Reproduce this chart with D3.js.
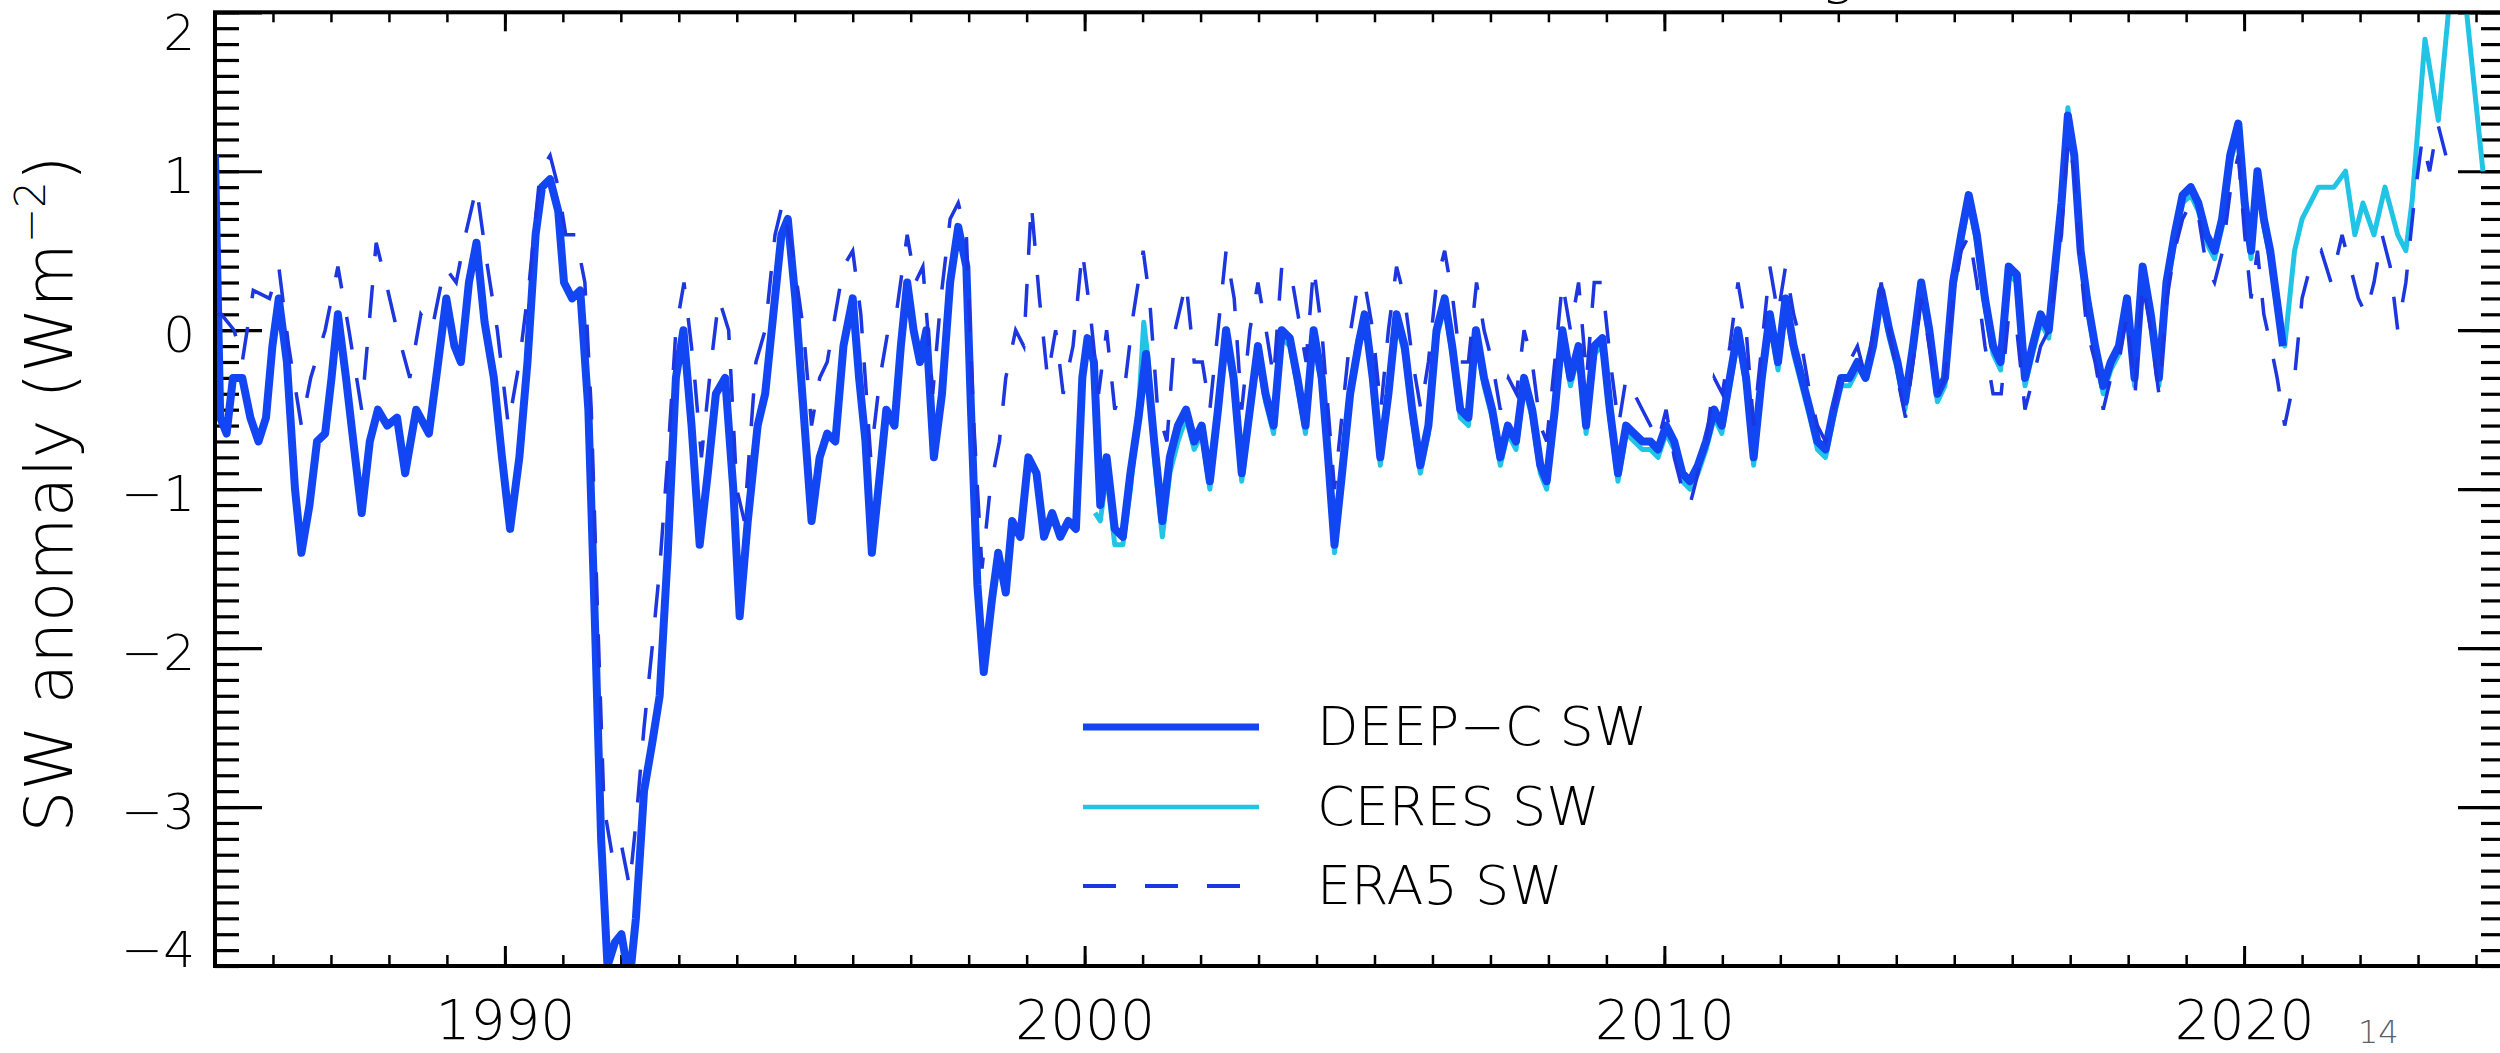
<!DOCTYPE html>
<html>
<head>
<meta charset="utf-8">
<script src="https://cdn.jsdelivr.net/npm/d3@7/dist/d3.min.js"></script>
<style>
  body { margin: 0; background: #fff; }
  svg { display: block; }
  text { font-family: "DejaVu Sans", sans-serif; font-weight: 200; fill: #000; }
</style>
</head>
<body>
<svg id="chart"></svg>
<script>
// ---- data: [decimal year, SW anomaly (W m-2)] ----
const deepcSW = [
  [1985.00, 1.10], [1985.09, -0.55], [1985.20, -0.65], [1985.31, -0.30], [1985.47, -0.30], [1985.61, -0.55],
  [1985.75, -0.70], [1985.88, -0.55], [1985.99, -0.10], [1986.10, 0.20], [1986.24, -0.20], [1986.38, -1.00],
  [1986.49, -1.40], [1986.63, -1.10], [1986.76, -0.70], [1986.90, -0.65], [1987.01, -0.30], [1987.12, 0.10],
  [1987.26, -0.30], [1987.37, -0.65], [1987.53, -1.15], [1987.67, -0.70], [1987.81, -0.50], [1987.97, -0.60],
  [1988.14, -0.55], [1988.28, -0.90], [1988.47, -0.50], [1988.69, -0.65], [1988.85, -0.20], [1988.99, 0.20],
  [1989.13, -0.10], [1989.24, -0.20], [1989.38, 0.30], [1989.51, 0.55], [1989.65, 0.05], [1989.81, -0.30],
  [1989.95, -0.80], [1990.09, -1.25], [1990.25, -0.80], [1990.39, -0.20], [1990.53, 0.60], [1990.64, 0.90],
  [1990.78, 0.95], [1990.92, 0.75], [1991.02, 0.30], [1991.16, 0.20], [1991.30, 0.25], [1991.44, -0.50],
  [1991.55, -1.80], [1991.66, -3.20], [1991.77, -4.00], [1991.90, -3.85], [1992.01, -3.80], [1992.15, -4.10],
  [1992.26, -3.70], [1992.40, -2.90], [1992.54, -2.60], [1992.67, -2.30], [1992.81, -1.40], [1992.95, -0.30],
  [1993.08, 0.00], [1993.22, -0.60], [1993.36, -1.35], [1993.50, -0.90], [1993.64, -0.40], [1993.80, -0.30],
  [1993.94, -1.00], [1994.05, -1.80], [1994.19, -1.20], [1994.36, -0.60], [1994.49, -0.40], [1994.63, 0.10],
  [1994.77, 0.60], [1994.88, 0.70], [1995.01, 0.20], [1995.15, -0.50], [1995.29, -1.20], [1995.43, -0.80],
  [1995.56, -0.65], [1995.70, -0.70], [1995.84, -0.10], [1996.00, 0.20], [1996.11, -0.30], [1996.22, -0.70],
  [1996.33, -1.40], [1996.47, -0.90], [1996.58, -0.50], [1996.72, -0.60], [1996.83, -0.10], [1996.94, 0.30],
  [1997.05, 0.00], [1997.16, -0.20], [1997.27, 0.00], [1997.40, -0.80], [1997.54, -0.40], [1997.68, 0.30],
  [1997.82, 0.65], [1997.96, 0.40], [1998.04, -0.50], [1998.15, -1.60], [1998.26, -2.15], [1998.40, -1.70],
  [1998.51, -1.40], [1998.64, -1.65], [1998.75, -1.20], [1998.89, -1.30], [1999.03, -0.80], [1999.17, -0.90],
  [1999.30, -1.30], [1999.44, -1.15], [1999.58, -1.30], [1999.72, -1.20], [1999.85, -1.25], [1999.96, -0.30],
  [2000.05, -0.05], [2000.16, -0.20], [2000.27, -1.10], [2000.38, -0.80], [2000.52, -1.25], [2000.66, -1.30],
  [2000.79, -0.90], [2000.93, -0.55], [2001.06, -0.15], [2001.20, -0.70], [2001.34, -1.20], [2001.47, -0.80],
  [2001.61, -0.60], [2001.75, -0.50], [2001.89, -0.70], [2002.02, -0.60], [2002.16, -0.95], [2002.30, -0.50],
  [2002.44, 0.00], [2002.57, -0.30], [2002.71, -0.90], [2002.85, -0.50], [2002.99, -0.10], [2003.12, -0.40],
  [2003.26, -0.60], [2003.40, 0.00], [2003.54, -0.05], [2003.67, -0.30], [2003.81, -0.60], [2003.95, 0.00],
  [2004.09, -0.30], [2004.20, -0.80], [2004.31, -1.35], [2004.44, -0.90], [2004.58, -0.40], [2004.72, -0.10],
  [2004.83, 0.10], [2004.97, -0.30], [2005.10, -0.80], [2005.24, -0.40], [2005.38, 0.10], [2005.52, -0.10],
  [2005.65, -0.50], [2005.79, -0.85], [2005.93, -0.60], [2006.07, 0.00], [2006.21, 0.20], [2006.34, -0.10],
  [2006.48, -0.50], [2006.62, -0.55], [2006.75, 0.00], [2006.89, -0.30], [2007.03, -0.50], [2007.17, -0.80],
  [2007.30, -0.60], [2007.44, -0.70], [2007.58, -0.30], [2007.72, -0.50], [2007.86, -0.85], [2007.97, -0.95],
  [2008.11, -0.50], [2008.24, 0.00], [2008.38, -0.30], [2008.52, -0.10], [2008.65, -0.60], [2008.79, -0.10],
  [2008.93, -0.05], [2009.06, -0.50], [2009.20, -0.90], [2009.34, -0.60], [2009.48, -0.65], [2009.62, -0.70],
  [2009.76, -0.70], [2009.89, -0.75], [2010.03, -0.60], [2010.17, -0.70], [2010.31, -0.90], [2010.44, -0.95],
  [2010.58, -0.85], [2010.72, -0.70], [2010.86, -0.50], [2010.99, -0.60], [2011.13, -0.30], [2011.27, 0.00],
  [2011.41, -0.30], [2011.54, -0.80], [2011.68, -0.30], [2011.82, 0.10], [2011.96, -0.20], [2012.09, 0.20],
  [2012.23, -0.10], [2012.37, -0.30], [2012.51, -0.50], [2012.64, -0.70], [2012.78, -0.75], [2012.92, -0.50],
  [2013.05, -0.30], [2013.19, -0.30], [2013.33, -0.20], [2013.47, -0.30], [2013.60, -0.10], [2013.74, 0.25],
  [2013.88, 0.00], [2014.02, -0.20], [2014.15, -0.45], [2014.29, -0.10], [2014.43, 0.30], [2014.57, 0.00],
  [2014.71, -0.40], [2014.84, -0.30], [2014.98, 0.30], [2015.12, 0.60], [2015.25, 0.85], [2015.39, 0.60],
  [2015.53, 0.20], [2015.67, -0.10], [2015.80, -0.20], [2015.94, 0.40], [2016.08, 0.35], [2016.22, -0.30],
  [2016.35, -0.10], [2016.49, 0.10], [2016.63, 0.00], [2016.74, 0.40], [2016.85, 0.80], [2016.96, 1.35],
  [2017.07, 1.10], [2017.18, 0.50], [2017.29, 0.20], [2017.43, -0.10], [2017.57, -0.35], [2017.70, -0.20],
  [2017.84, -0.10], [2017.98, 0.20], [2018.11, -0.30], [2018.25, 0.40], [2018.39, 0.10], [2018.53, -0.30],
  [2018.66, 0.30], [2018.80, 0.60], [2018.94, 0.85], [2019.08, 0.90], [2019.21, 0.80], [2019.35, 0.60],
  [2019.49, 0.50], [2019.62, 0.70], [2019.76, 1.10], [2019.90, 1.30], [2020.01, 0.80], [2020.12, 0.50],
  [2020.23, 1.00], [2020.34, 0.70], [2020.45, 0.50], [2020.56, 0.20], [2020.67, -0.10]
];

const ceresSW = [
  [2000.18, -1.15], [2000.27, -1.20], [2000.38, -0.90], [2000.52, -1.35], [2000.66, -1.35], [2000.79, -1.00],
  [2000.93, -0.50], [2001.02, 0.05], [2001.10, -0.20], [2001.20, -0.80], [2001.34, -1.30], [2001.47, -0.90],
  [2001.61, -0.70], [2001.75, -0.55], [2001.89, -0.75], [2002.02, -0.65], [2002.16, -1.00], [2002.30, -0.55],
  [2002.44, -0.05], [2002.57, -0.35], [2002.71, -0.95], [2002.85, -0.55], [2002.99, -0.15], [2003.12, -0.45],
  [2003.26, -0.65], [2003.40, -0.05], [2003.54, -0.10], [2003.67, -0.35], [2003.81, -0.65], [2003.95, -0.05],
  [2004.09, -0.35], [2004.20, -0.85], [2004.31, -1.40], [2004.44, -0.95], [2004.58, -0.40], [2004.72, -0.05],
  [2004.83, 0.10], [2004.97, -0.35], [2005.10, -0.85], [2005.24, -0.45], [2005.38, 0.05], [2005.52, -0.15],
  [2005.65, -0.55], [2005.79, -0.90], [2005.93, -0.65], [2006.07, -0.05], [2006.21, 0.15], [2006.34, -0.15],
  [2006.48, -0.55], [2006.62, -0.60], [2006.75, -0.05], [2006.89, -0.35], [2007.03, -0.55], [2007.17, -0.85],
  [2007.30, -0.65], [2007.44, -0.75], [2007.58, -0.35], [2007.72, -0.55], [2007.86, -0.90], [2007.97, -1.00],
  [2008.11, -0.55], [2008.24, -0.05], [2008.38, -0.35], [2008.52, -0.15], [2008.65, -0.65], [2008.79, -0.15],
  [2008.93, -0.10], [2009.06, -0.55], [2009.20, -0.95], [2009.34, -0.65], [2009.48, -0.70], [2009.62, -0.75],
  [2009.76, -0.75], [2009.89, -0.80], [2010.03, -0.65], [2010.17, -0.75], [2010.31, -0.95], [2010.44, -1.00],
  [2010.58, -0.90], [2010.72, -0.75], [2010.86, -0.55], [2010.99, -0.65], [2011.13, -0.35], [2011.27, -0.05],
  [2011.41, -0.35], [2011.54, -0.85], [2011.68, -0.35], [2011.82, 0.05], [2011.96, -0.25], [2012.09, 0.15],
  [2012.23, -0.15], [2012.37, -0.35], [2012.51, -0.55], [2012.64, -0.75], [2012.78, -0.80], [2012.92, -0.55],
  [2013.05, -0.35], [2013.19, -0.35], [2013.33, -0.25], [2013.47, -0.25], [2013.60, -0.05], [2013.74, 0.20],
  [2013.88, -0.05], [2014.02, -0.25], [2014.15, -0.50], [2014.29, -0.15], [2014.43, 0.25], [2014.57, -0.05],
  [2014.71, -0.45], [2014.84, -0.35], [2014.98, 0.25], [2015.12, 0.55], [2015.25, 0.80], [2015.39, 0.55],
  [2015.53, 0.15], [2015.67, -0.15], [2015.80, -0.25], [2015.94, 0.35], [2016.08, 0.30], [2016.22, -0.35],
  [2016.35, -0.15], [2016.49, 0.05], [2016.63, -0.05], [2016.74, 0.35], [2016.85, 0.80], [2016.96, 1.40],
  [2017.07, 1.10], [2017.18, 0.45], [2017.29, 0.15], [2017.43, -0.15], [2017.57, -0.40], [2017.70, -0.25],
  [2017.84, -0.15], [2017.98, 0.15], [2018.11, -0.35], [2018.25, 0.35], [2018.39, 0.05], [2018.53, -0.35],
  [2018.66, 0.25], [2018.80, 0.55], [2018.94, 0.80], [2019.08, 0.85], [2019.21, 0.75], [2019.35, 0.55],
  [2019.49, 0.45], [2019.62, 0.65], [2019.76, 1.05], [2019.90, 1.25], [2020.01, 0.75], [2020.12, 0.45],
  [2020.23, 0.95], [2020.34, 0.65], [2020.45, 0.45], [2020.56, 0.15], [2020.70, -0.10], [2020.87, 0.50],
  [2021.00, 0.70], [2021.14, 0.80], [2021.28, 0.90], [2021.55, 0.90], [2021.75, 1.00], [2021.91, 0.60],
  [2022.05, 0.80], [2022.24, 0.60], [2022.43, 0.90], [2022.65, 0.60], [2022.79, 0.50], [2022.90, 0.82],
  [2023.12, 1.83], [2023.35, 1.32], [2023.55, 2.10], [2023.70, 2.30], [2023.81, 2.10], [2024.12, 1.00]
];

const era5SW = [
  [1985.00, 0.10], [1985.11, 0.10], [1985.33, 0.00], [1985.47, -0.20], [1985.66, 0.25], [1985.94, 0.20],
  [1986.10, 0.40], [1986.27, -0.10], [1986.49, -0.60], [1986.65, -0.30], [1986.90, 0.00], [1987.12, 0.40],
  [1987.31, 0.00], [1987.53, -0.50], [1987.78, 0.55], [1987.95, 0.30], [1988.14, 0.00], [1988.36, -0.30],
  [1988.55, 0.10], [1988.74, 0.00], [1988.96, 0.40], [1989.16, 0.30], [1989.32, 0.60], [1989.51, 0.90],
  [1989.70, 0.40], [1989.87, 0.00], [1990.06, -0.60], [1990.25, -0.20], [1990.42, 0.30], [1990.61, 1.00],
  [1990.78, 1.10], [1990.92, 0.90], [1991.05, 0.60], [1991.22, 0.60], [1991.38, 0.30], [1991.49, -0.50],
  [1991.60, -1.80], [1991.71, -3.00], [1991.85, -3.30], [1991.99, -3.20], [1992.15, -3.50], [1992.26, -3.10],
  [1992.40, -2.50], [1992.54, -2.00], [1992.67, -1.50], [1992.81, -0.80], [1992.95, 0.00], [1993.09, 0.30],
  [1993.25, -0.20], [1993.39, -0.80], [1993.56, -0.20], [1993.69, 0.20], [1993.86, 0.00], [1994.00, -1.00],
  [1994.13, -1.20], [1994.33, -0.20], [1994.49, 0.00], [1994.66, 0.60], [1994.79, 0.80], [1994.96, 0.50],
  [1995.15, 0.00], [1995.29, -0.60], [1995.43, -0.30], [1995.56, -0.20], [1995.70, 0.10], [1995.84, 0.40],
  [1996.00, 0.50], [1996.14, 0.10], [1996.31, -0.80], [1996.47, -0.30], [1996.61, 0.00], [1996.75, 0.10],
  [1996.94, 0.60], [1997.08, 0.30], [1997.21, 0.40], [1997.38, -0.40], [1997.52, 0.20], [1997.68, 0.70],
  [1997.82, 0.80], [1997.96, 0.60], [1998.09, -0.60], [1998.23, -1.50], [1998.37, -1.00], [1998.53, -0.70],
  [1998.64, -0.30], [1998.81, 0.00], [1998.95, -0.10], [1999.08, 0.80], [1999.22, 0.20], [1999.36, -0.30],
  [1999.50, 0.00], [1999.63, -0.40], [1999.80, -0.10], [1999.96, 0.50], [2000.10, 0.10], [2000.24, -0.40],
  [2000.38, 0.00], [2000.52, -0.50], [2000.71, -0.30], [2000.84, 0.10], [2001.01, 0.50], [2001.12, 0.20],
  [2001.26, -0.50], [2001.42, -0.70], [2001.56, 0.00], [2001.75, 0.30], [2001.89, -0.20], [2002.03, -0.20],
  [2002.16, -0.50], [2002.30, 0.00], [2002.44, 0.50], [2002.58, 0.20], [2002.71, -0.50], [2002.85, 0.00],
  [2002.99, 0.30], [2003.13, 0.00], [2003.26, -0.30], [2003.40, 0.40], [2003.54, 0.40], [2003.68, 0.10],
  [2003.82, -0.20], [2003.95, 0.40], [2004.09, 0.00], [2004.20, -0.50], [2004.31, -1.00], [2004.45, -0.50],
  [2004.59, 0.00], [2004.72, 0.30], [2004.83, 0.30], [2004.97, 0.00], [2005.11, -0.50], [2005.24, 0.00],
  [2005.38, 0.40], [2005.52, 0.20], [2005.66, -0.20], [2005.80, -0.50], [2005.93, -0.20], [2006.07, 0.30],
  [2006.21, 0.50], [2006.35, 0.20], [2006.48, -0.20], [2006.62, -0.20], [2006.76, 0.30], [2006.89, 0.00],
  [2007.03, -0.20], [2007.17, -0.50], [2007.31, -0.30], [2007.45, -0.40], [2007.58, 0.00], [2007.72, -0.20],
  [2007.86, -0.60], [2007.97, -0.70], [2008.11, -0.20], [2008.24, 0.30], [2008.38, 0.00], [2008.52, 0.30],
  [2008.66, -0.30], [2008.79, 0.30], [2008.93, 0.30], [2009.07, -0.20], [2009.21, -0.60], [2009.34, -0.30],
  [2009.48, -0.40], [2009.62, -0.50], [2009.76, -0.60], [2009.89, -0.70], [2010.03, -0.50], [2010.17, -0.80],
  [2010.31, -1.00], [2010.44, -1.10], [2010.58, -0.90], [2010.72, -0.70], [2010.86, -0.30], [2011.00, -0.40],
  [2011.13, -0.10], [2011.27, 0.30], [2011.41, 0.00], [2011.54, -0.60], [2011.68, -0.10], [2011.82, 0.40],
  [2011.96, 0.10], [2012.09, 0.40], [2012.23, 0.10], [2012.37, -0.10], [2012.51, -0.40], [2012.64, -0.60],
  [2012.78, -0.70], [2012.92, -0.50], [2013.06, -0.20], [2013.19, -0.20], [2013.33, -0.10], [2013.47, -0.30],
  [2013.61, 0.00], [2013.74, 0.30], [2013.88, 0.00], [2014.02, -0.30], [2014.16, -0.55], [2014.29, -0.20],
  [2014.43, 0.20], [2014.57, -0.10], [2014.71, -0.40], [2014.84, -0.30], [2014.98, 0.20], [2015.12, 0.50],
  [2015.26, 0.60], [2015.39, 0.30], [2015.53, -0.10], [2015.67, -0.40], [2015.81, -0.40], [2015.94, 0.10],
  [2016.08, 0.00], [2016.22, -0.50], [2016.36, -0.30], [2016.49, -0.10], [2016.63, 0.00], [2016.74, 0.30],
  [2016.85, 0.60], [2016.96, 1.20], [2017.07, 1.00], [2017.18, 0.40], [2017.29, 0.00], [2017.43, -0.20],
  [2017.57, -0.50], [2017.70, -0.30], [2017.84, -0.20], [2017.98, 0.10], [2018.12, -0.40], [2018.25, 0.30],
  [2018.39, 0.00], [2018.53, -0.40], [2018.67, 0.20], [2018.80, 0.50], [2018.94, 0.70], [2019.08, 0.80],
  [2019.22, 0.70], [2019.35, 0.40], [2019.49, 0.30], [2019.63, 0.50], [2019.77, 0.90], [2019.90, 1.10],
  [2020.01, 0.60], [2020.12, 0.20], [2020.23, 0.50], [2020.34, 0.10], [2020.46, -0.10], [2020.57, -0.30],
  [2020.70, -0.60], [2020.87, -0.30], [2021.00, 0.20], [2021.14, 0.40], [2021.33, 0.50], [2021.50, 0.30],
  [2021.69, 0.60], [2021.83, 0.40], [2021.97, 0.20], [2022.10, 0.10], [2022.24, 0.30], [2022.38, 0.60],
  [2022.52, 0.40], [2022.65, 0.00], [2022.79, 0.30], [2022.93, 0.80], [2023.07, 1.20], [2023.20, 1.00],
  [2023.34, 1.30], [2023.48, 1.10]
];

const xMajorTicks = [1990, 2000, 2010, 2020];
const xMinorTicks = d3.range(1985, 2025);
const yMajorTicks = [-4, -3, -2, -1, 0, 1, 2];
const yMinorTicks = d3.range(-40, 21).map(d => d / 10);
const legendItems = ["DEEP\u2212C SW", "CERES SW", "ERA5 SW"];
const yTitle = "SW anomaly (Wm";

// ---- layout ----
const W = 2500, H = 1053;
const plot = {left: 215, right: 2505, top: 12.3, bottom: 966};

const svg = d3.select("#chart").attr("width", W).attr("height", H);

const x = d3.scaleLinear().domain([1985, 2024.5]).range([plot.left, plot.right]);
const y = d3.scaleLinear().domain([-4, 2]).range([plot.bottom, plot.top]);

svg.append("clipPath").attr("id", "clip")
    .append("rect")
    .attr("x", plot.left).attr("y", plot.top)
    .attr("width", plot.right - plot.left).attr("height", plot.bottom - plot.top);

const minus = d => (d < 0 ? "\u2212" + Math.abs(d) : String(d));

// minor ticks (no labels) on all four sides, pointing inward
const bare = g => g.call(a => a.selectAll("text").remove()).call(a => a.select(".domain").remove());
svg.append("g").attr("transform", `translate(0,${plot.bottom})`)
    .call(d3.axisBottom(x).tickValues(xMinorTicks).tickSize(-11).tickFormat(""))
    .call(bare).selectAll("line").attr("stroke-width", 2.5);
svg.append("g").attr("transform", `translate(0,${plot.top})`)
    .call(d3.axisTop(x).tickValues(xMinorTicks).tickSize(-10).tickFormat(""))
    .call(bare).selectAll("line").attr("stroke-width", 2.5);
svg.append("g").attr("transform", `translate(${plot.left},0)`)
    .call(d3.axisLeft(y).tickValues(yMinorTicks).tickSize(-24).tickFormat(""))
    .call(bare).selectAll("line").attr("stroke-width", 3.2);
svg.append("g").attr("transform", `translate(${plot.right},0)`)
    .call(d3.axisRight(y).tickValues(yMinorTicks).tickSize(-24).tickFormat(""))
    .call(bare).selectAll("line").attr("stroke-width", 3.2);

// major ticks with labels
const xAxisG = svg.append("g").attr("transform", `translate(0,${plot.bottom})`)
    .call(d3.axisBottom(x).tickValues(xMajorTicks).tickSize(-20).tickPadding(34).tickFormat(d3.format("d")));
xAxisG.select(".domain").remove();
xAxisG.selectAll("line").attr("stroke-width", 3);
xAxisG.selectAll("text").attr("font-size", 55).attr("font-family", "DejaVu Sans").attr("font-weight", 200);

const xTopG = svg.append("g").attr("transform", `translate(0,${plot.top})`)
    .call(d3.axisTop(x).tickValues(xMajorTicks).tickSize(-19).tickFormat(""));
xTopG.select(".domain").remove();
xTopG.selectAll("line").attr("stroke-width", 3);

const yAxisG = svg.append("g").attr("transform", `translate(${plot.left},0)`)
    .call(d3.axisLeft(y).tickValues(yMajorTicks).tickSize(-47).tickPadding(20).tickFormat(minus));
yAxisG.select(".domain").remove();
yAxisG.selectAll("line").attr("stroke-width", 3.2);
// end labels are pulled inside the frame, as in the original
yAxisG.selectAll("text")
    .attr("font-size", 50).attr("font-family", "DejaVu Sans").attr("font-weight", 200)
    .attr("dy", d => d === 2 ? "0.75em" : d === -4 ? "0em" : "0.42em");

const yRightG = svg.append("g").attr("transform", `translate(${plot.right},0)`)
    .call(d3.axisRight(y).tickValues(yMajorTicks).tickSize(-47).tickFormat(""));
yRightG.select(".domain").remove();
yRightG.selectAll("line").attr("stroke-width", 3.2);

// data lines
const line = d3.line().x(d => x(d[0])).y(d => y(d[1]));
const lines = svg.append("g").attr("clip-path", "url(#clip)");

lines.append("path").datum(ceresSW)
    .attr("fill", "none").attr("stroke", "#22c4e6").attr("stroke-width", 5)
    .attr("stroke-linejoin", "round").attr("d", line);
lines.append("path").datum(deepcSW)
    .attr("fill", "none").attr("stroke", "#1246f2").attr("stroke-width", 8)
    .attr("stroke-linejoin", "round").attr("d", line);
lines.append("path").datum(era5SW)
    .attr("fill", "none").attr("stroke", "#1c36e0").attr("stroke-width", 3.5)
    .attr("stroke-dasharray", "33,29").attr("d", line);

// frame
svg.append("rect")
    .attr("x", plot.left).attr("y", plot.top)
    .attr("width", plot.right - plot.left).attr("height", plot.bottom - plot.top)
    .attr("fill", "none").attr("stroke", "#000").attr("stroke-width", 4);

// y axis title
const yt = svg.append("text")
    .attr("transform", "translate(72,494) rotate(-90)")
    .attr("text-anchor", "middle")
    .attr("font-size", 66);
yt.append("tspan").text(yTitle);
yt.append("tspan").attr("font-size", 42).attr("dy", -27).text("\u22122");
yt.append("tspan").attr("dy", 27).text(")");

// legend
const legendStyles = [
    {stroke: "#1246f2", width: 7, dash: null},
    {stroke: "#22c4e6", width: 4.5, dash: null},
    {stroke: "#1c36e0", width: 4, dash: "33,29"}
];
const legendY = [727, 807, 886];
const legend = svg.append("g");
legendItems.forEach((label, i) => {
    legend.append("line")
        .attr("x1", 1083).attr("x2", 1259)
        .attr("y1", legendY[i]).attr("y2", legendY[i])
        .attr("stroke", legendStyles[i].stroke)
        .attr("stroke-width", legendStyles[i].width)
        .attr("stroke-dasharray", legendStyles[i].dash);
    legend.append("text")
        .attr("x", 1317).attr("y", legendY[i] + 18)
        .attr("font-size", 54)
        .text(label);
});

// clipped title remnant at the very top and page number
svg.append("text").attr("x", 1838).attr("y", -8).attr("text-anchor", "middle")
    .attr("font-size", 56).text("g");
svg.append("text").attr("x", 2358).attr("y", 1043)
    .attr("font-family", "Roboto").attr("font-weight", 400)
    .attr("font-size", 32).style("fill", "#595f66").text("14");
</script>
</body>
</html>
